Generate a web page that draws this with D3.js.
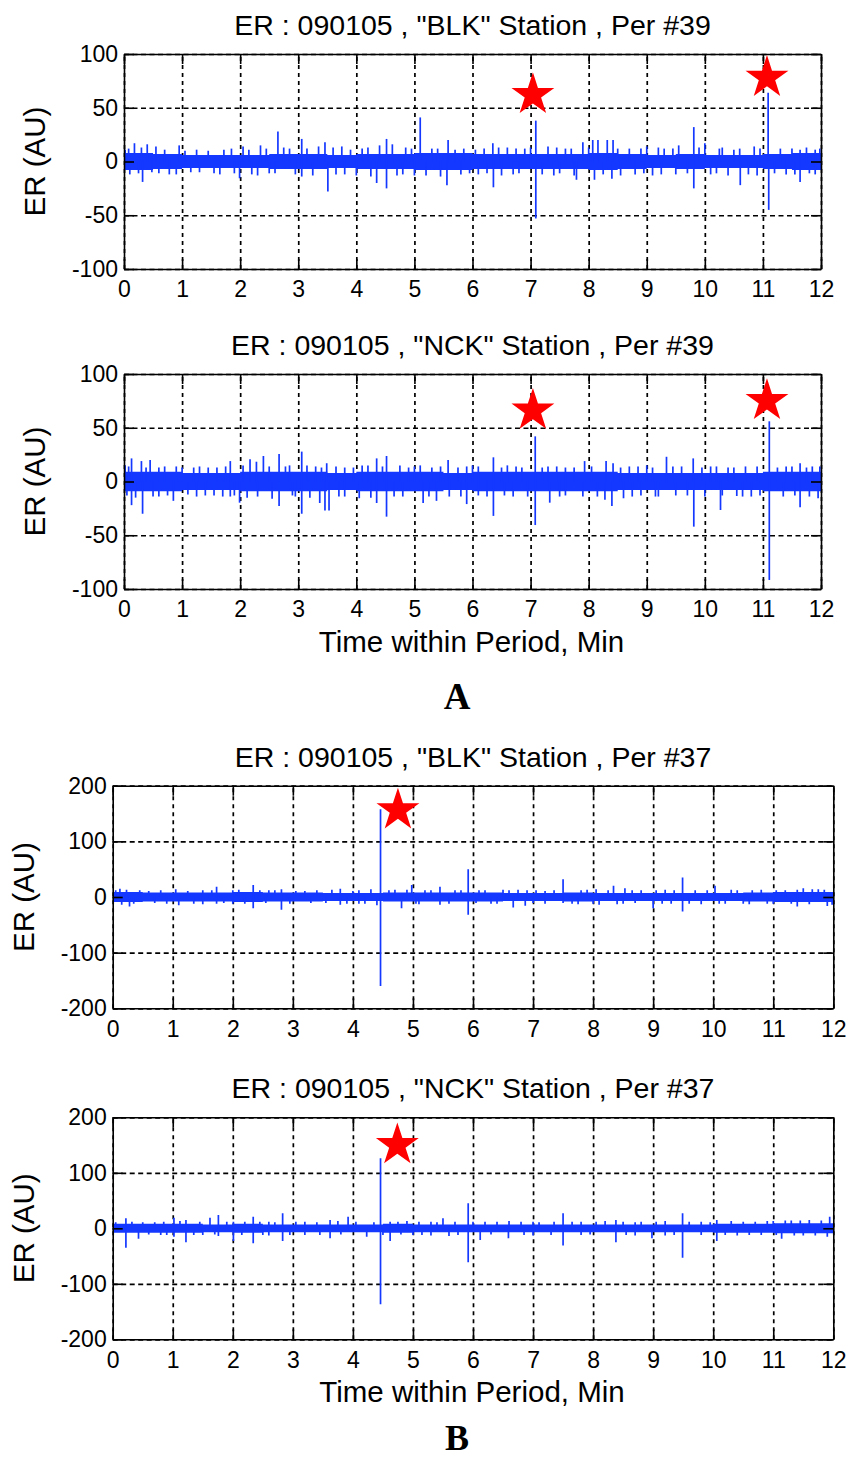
<!DOCTYPE html>
<html lang="en">
<head>
<meta charset="utf-8">
<title>ER periods</title>
<script src="https://cdnjs.cloudflare.com/ajax/libs/d3/7.8.5/d3.min.js"></script>
<style>
  body { margin: 0; background: #fff; }
  text { font-family: "Liberation Sans", Arial, sans-serif; fill: #000; }
</style>
</head>
<body>
<script>
// ---- data ----
var xTickLabels = [0, 1, 2, 3, 4, 5, 6, 7, 8, 9, 10, 11, 12];
var yTicksA = [-100, -50, 0, 50, 100];
var yTicksB = [-200, -100, 0, 100, 200];

var titleA1 = 'ER : 090105 , "BLK" Station , Per #39';
var titleA2 = 'ER : 090105 , "NCK" Station , Per #39';
var titleB1 = 'ER : 090105 , "BLK" Station , Per #37';
var titleB2 = 'ER : 090105 , "NCK" Station , Per #37';

// start of each half-minute bin of the background noise band
var bandTimes = [0, 0.5, 1, 1.5, 2, 2.5, 3, 3.5, 4, 4.5, 5, 5.5, 6, 6.5, 7, 7.5, 8, 8.5, 9, 9.5, 10, 10.5, 11, 11.5, 12];
// half width of the dense noise band per bin (AU)
var bandA1 = [8, 7, 6, 6, 6, 7, 7, 6, 7, 7, 8, 8, 7, 7, 7, 7, 8, 7, 6, 7, 6, 6, 7, 8, 8];
var bandA2 = [9, 9, 8, 8, 9, 9, 9, 8, 9, 9, 9, 8, 9, 9, 9, 9, 9, 8, 8, 8, 8, 8, 9, 9, 9];
var bandB1 = [9, 8, 8, 8, 9, 8, 8, 7, 7, 8, 8, 8, 8, 7, 7, 8, 7, 7, 7, 7, 7, 8, 9, 9, 9];
var bandB2 = [8, 8, 8, 7, 8, 7, 7, 7, 7, 8, 7, 7, 7, 7, 7, 7, 7, 7, 7, 7, 8, 8, 9, 9, 9];

// big spikes: [minute, value]
var spikesA1 = [
  [0.02,11],[0.18,17],[0.40,16],[0.55,14],[0.95,15],[1.45,10],[1.72,11],[2.05,14],[2.35,15],[2.65,28],
  [2.85,12],[3.06,21],[3.46,18],[3.75,14],[4.1,12],[4.52,21],[4.62,16],[4.85,13],[5.10,41],[5.30,12],
  [5.58,20],[5.85,12],[6.05,11],[6.35,17],[6.6,13],[6.9,12],[7.09,38],[7.3,14],[7.6,12],[7.9,18],
  [8.07,20],[8.16,20],[8.32,20],[8.42,20],[8.7,12],[9.0,14],[9.3,12],[9.55,15],[9.81,32],[10.0,17],
  [10.3,13],[10.6,12],[10.85,14],[11.09,64],[11.3,12],[11.64,11],[11.9,11],
  [0.1,-12],[0.32,-19],[0.6,-11],[0.9,-12],[1.3,-10],[1.65,-12],[1.99,-15.6],[2.3,-13],[2.6,-11],[3.06,-14],
  [3.51,-28],[3.8,-12],[4.0,-13],[4.35,-20],[4.52,-25],[4.8,-12],[5.0,-13],[5.56,-22],[5.8,-12],[6.1,-12],
  [6.36,-24],[6.7,-12],[7.09,-53],[7.4,-13],[7.79,-17],[8.1,-17],[8.4,-16],[8.8,-12],[9.1,-13],[9.5,-12],
  [9.81,-25],[10.1,-12],[10.4,-13],[10.61,-22],[10.9,-13],[11.1,-45],[11.4,-12],[11.64,-19],[11.9,-12]
];
var spikesA2 = [
  [0.02,15],[0.13,21.5],[0.30,19],[0.45,20],[0.7,14],[1.0,13],[1.3,14],[1.6,13],[1.83,19],[2.17,20.6],
  [2.28,18.4],[2.40,23.7],[2.67,25.6],[2.85,15],[3.06,27.8],[3.3,14],[3.49,17],[3.8,13],[4.1,15],[4.35,21.5],
  [4.52,23.7],[4.75,15],[5.0,14],[5.3,13],[5.58,20],[5.90,14],[6.1,14],[6.36,22.5],[6.6,15],[6.85,13],
  [7.08,42],[7.3,14],[7.6,13],[7.93,19],[8.3,19],[8.42,17],[8.7,14],[9.0,15],[9.34,23],[9.6,14],
  [9.80,21.5],[10.1,14],[10.4,13],[10.7,14],[11.11,56],[11.4,14],[11.64,17],[11.85,14],
  [0.05,-13],[0.13,-22],[0.32,-30],[0.6,-14],[0.85,-18],[1.1,-12],[1.4,-13],[1.7,-14],[1.83,-14],[1.99,-19.7],
  [2.3,-14],[2.67,-22.8],[2.9,-13],[3.06,-30],[3.37,-20],[3.46,-27],[3.53,-27],[3.8,-14],[4.05,-15.6],[4.35,-20],
  [4.52,-32.7],[4.8,-14],[5.15,-20],[5.38,-18],[5.6,-14],[5.90,-21],[6.1,-13],[6.36,-32],[6.7,-14],[7.08,-40.5],
  [7.33,-19.7],[7.6,-13],[7.9,-14],[8.28,-17],[8.40,-22.8],[8.6,-15.6],[8.9,-13],[9.2,-14],[9.5,-13],[9.81,-42],
  [10.0,-14],[10.27,-26.5],[10.55,-13.5],[10.8,-14],[11.11,-91.6],[11.35,-14],[11.64,-24],[11.95,-15.6]
];
var spikesB1 = [
  [0.12,15],[0.23,13],[0.6,11],[1.05,14],[1.5,12],[1.73,18.6],[2.0,12],[2.34,21.5],[2.6,12],[2.81,14],
  [3.2,11],[3.79,15],[4.1,12],[4.3,14],[4.46,157.5],[4.7,13],[4.98,21.5],[5.2,12],[5.45,18.6],[5.7,12],
  [5.92,50],[6.2,12],[6.5,13],[6.9,12],[7.2,11],[7.50,32],[7.8,12],[8.05,14],[8.34,20],[8.53,15.6],
  [8.8,12],[9.2,13],[9.49,35],[9.7,12],[10.03,20],[10.4,12],[10.8,13],[11.2,12],[11.5,15.6],[11.75,14],
  [0.15,-14],[0.28,-17],[0.7,-11],[1.1,-15],[1.5,-13],[1.73,-12],[2.0,-12],[2.34,-20],[2.81,-23],[3.3,-11],
  [3.79,-14],[4.1,-12],[4.4,-15],[4.46,-160],[4.81,-20],[5.1,-13],[5.45,-14],[5.92,-32],[6.3,-12],[6.67,-19],
  [6.87,-15.6],[7.2,-12],[7.50,-11],[7.75,-13],[8.1,-14],[8.5,-12],[9.0,-20],[9.3,-12],[9.49,-26],[9.8,-13],
  [10.2,-12],[10.6,-13],[11.0,-12],[11.4,-17],[11.9,-16]
];
var spikesB2 = [
  [0.22,18],[0.5,11],[0.85,12],[1.02,19],[1.22,15],[1.62,19],[1.76,24],[2.01,12],[2.34,21],[2.6,12],
  [2.83,27],[3.2,12],[3.62,15],[3.92,21],[4.46,126],[4.62,12],[4.9,13],[5.3,12],[5.5,18],[5.92,45],
  [6.2,12],[6.6,13],[7.0,12],[7.50,27],[7.8,12],[8.2,13],[8.38,15],[8.8,12],[9.2,13],[9.49,27],
  [9.8,12],[10.06,15],[10.5,12],[11.0,13],[11.3,14],[11.6,15],[11.94,21],
  [0.22,-35],[0.43,-19],[0.8,-12],[1.02,-15],[1.22,-25],[1.5,-12],[1.76,-14],[2.01,-23],[2.34,-27],[2.6,-13],
  [2.83,-23],[3.2,-12],[3.62,-18],[4.23,-15],[4.46,-137],[4.62,-23],[5.0,-12],[5.3,-13],[5.6,-14],[5.92,-61],
  [6.12,-21],[6.59,-18],[7.0,-13],[7.50,-31],[7.8,-12],[8.38,-25],[8.7,-13],[8.98,-18],[9.2,-13],[9.49,-53],
  [9.8,-12],[10.06,-23],[10.4,-13],[10.8,-12],[11.14,-19],[11.5,-13],[11.9,-15]
];

// small hairs along the band edges: [minute, value]
var hairsA1 = [
  [0.08,12],[0.25,-11],[0.3,13],[0.48,-10],[0.7,11],[0.78,-12],[1.05,10],[1.15,-10],[1.25,11],[1.55,-11],
  [1.85,12],[1.9,-11],[2.15,11],[2.2,-12],[2.45,12],[2.5,-11],[2.75,13],[2.95,-12],[3.15,12],[3.25,-13],
  [3.35,14],[3.6,13],[3.65,-12],[3.9,11],[4.2,13],[4.25,-14],[4.4,15],[4.7,-13],[4.95,12],[5.2,-13],
  [5.4,12],[5.45,-14],[5.7,11],[5.95,-11],[6.2,12],[6.25,-11],[6.45,13],[6.5,-13],[6.75,12],[6.8,-11],
  [7.0,13],[7.2,-12],[7.45,13],[7.5,-11],[7.7,12],[7.75,-13],[8.0,13],[8.25,-12],[8.5,12],[8.55,-13],
  [8.9,12],[8.95,-11],[9.2,13],[9.25,-12],[9.45,12],[9.7,-11],[9.9,13],[10.2,-11],[10.25,12],[10.5,11],
  [10.75,-12],[10.95,12],[11.2,-11],[11.5,12],[11.55,-12],[11.75,13],[11.8,-11],[11.98,12]
];
var hairsA2 = [
  [0.08,14],[0.2,-15],[0.38,13],[0.5,-14],[0.6,13],[0.75,-13],[0.9,14],[1.2,13],[1.25,-14],[1.45,13],
  [1.55,-13],[1.75,14],[1.9,-13],[2.05,15],[2.12,-15],[2.5,14],[2.55,-16],[2.78,14],[2.95,-14],[3.15,15],
  [3.2,-15],[3.4,13],[3.65,14],[3.7,-14],[3.95,13],[4.2,15],[4.25,-15],[4.45,14],[4.65,-14],[4.9,13],
  [5.1,15],[5.25,-14],[5.45,14],[5.75,13],[5.8,-14],[6.0,15],[6.25,-14],[6.5,13],[6.55,-13],[6.75,14],
  [6.95,-14],[7.2,13],[7.45,14],[7.5,-14],[7.75,13],[8.05,14],[8.15,-14],[8.55,13],[8.75,-14],[8.85,14],
  [9.1,13],[9.15,-14],[9.45,14],[9.7,-13],[9.95,13],[10.2,14],[10.3,-13],[10.5,13],[10.65,-14],[10.9,14],
  [10.95,-13],[11.25,13],[11.5,14],[11.55,-13],[11.75,13],[11.8,-14],[11.98,14]
];
var hairsB1 = [
  [0.05,12],[0.35,-12],[0.45,12],[0.8,12],[0.9,-12],[1.25,11],[1.35,-12],[1.65,12],[1.85,-11],[2.1,13],
  [2.2,-12],[2.45,12],[2.55,-11],[2.7,12],[2.95,-12],[3.05,11],[3.4,12],[3.55,-11],[3.65,13],[3.9,-12],
  [4.0,11],[4.2,-12],[4.6,12],[4.9,13],[5.05,-12],[5.3,12],[5.6,-12],[5.8,12],[6.05,-11],[6.1,12],
  [6.4,-12],[6.6,12],[6.75,13],[7.0,-11],[7.05,12],[7.35,12],[7.65,-12],[7.9,13],[8.0,-12],[8.25,12],
  [8.4,-13],[8.65,12],[8.7,-11],[9.05,12],[9.15,-12],[9.35,12],[9.6,-12],[9.9,12],[10.1,-12],[10.3,13],
  [10.5,-12],[10.65,12],[10.9,-12],[11.05,12],[11.3,-12],[11.4,13],[11.6,-13],[11.65,14],[11.85,13],[11.98,-14]
];
var hairsB2 = [
  [0.05,11],[0.32,12],[0.6,-11],[0.7,11],[0.9,-12],[1.12,13],[1.35,-12],[1.45,12],[1.7,-11],[1.9,12],
  [2.15,-12],[2.2,12],[2.45,12],[2.5,-12],[2.7,11],[2.95,-12],[3.05,12],[3.4,11],[3.45,-12],[3.75,13],
  [3.8,-11],[4.05,12],[4.35,11],[4.5,-12],[4.75,12],[4.8,-11],[5.1,12],[5.15,-12],[5.4,11],[5.7,12],
  [5.75,-12],[6.0,12],[6.3,-11],[6.4,12],[6.8,12],[6.85,-12],[7.1,11],[7.3,-12],[7.35,12],[7.65,12],
  [7.95,-11],[8.05,12],[8.5,12],[8.55,-12],[8.7,11],[9.05,12],[9.35,-12],[9.6,12],[9.95,11],[10.2,-12],
  [10.3,13],[10.6,-12],[10.7,12],[10.9,13],[11.05,-12],[11.2,14],[11.35,-13],[11.45,14],[11.7,-13],[11.8,14]
];

// red star markers: [minute, value]
var starsA1 = [[7.04, 62], [11.07, 78]];
var starsA2 = [[7.04, 66], [11.07, 75]];
var starsB1 = [[4.75, 156]];
var starsB2 = [[4.74, 150]];

// ---- layout ----
var W = 849, H = 1458;
var svg = d3.select("body").append("svg")
  .attr("width", W)
  .attr("height", H);

var panels = [
  { title: titleA1, yTicks: yTicksA, band: bandA1, spikes: spikesA1.concat(hairsA1), stars: starsA1,
    l: 124, r: 821, t: 54, b: 269, ylabX: 45, xlab: false },
  { title: titleA2, yTicks: yTicksA, band: bandA2, spikes: spikesA2.concat(hairsA2), stars: starsA2,
    l: 124, r: 821, t: 374, b: 589, ylabX: 45, xlab: true },
  { title: titleB1, yTicks: yTicksB, band: bandB1, spikes: spikesB1.concat(hairsB1), stars: starsB1,
    l: 112.7, r: 833.3, t: 785.7, b: 1008.3, ylabX: 34, xlab: false },
  { title: titleB2, yTicks: yTicksB, band: bandB2, spikes: spikesB2.concat(hairsB2), stars: starsB2,
    l: 112.7, r: 833.3, t: 1117.3, b: 1339.3, ylabX: 34, xlab: true }
];

var blue = "#1438ff";

panels.forEach(function(p, k) {
  var yMax = d3.max(p.yTicks), yMin = d3.min(p.yTicks);
  var x = d3.scaleLinear().domain([0, 12]).range([p.l, p.r]);
  var y = d3.scaleLinear().domain([yMin, yMax]).range([p.b, p.t]);
  var g = svg.append("g");

  // grid (dotted)
  g.append("g")
    .attr("transform", "translate(0," + p.b + ")")
    .call(d3.axisBottom(x).tickValues(xTickLabels).tickSize(-(p.b - p.t)).tickFormat(""))
    .call(function(s) {
      s.select(".domain").remove();
      s.selectAll("line").attr("stroke", "#000").attr("stroke-width", 1.7).attr("stroke-dasharray", "4,4");
    });
  g.append("g")
    .attr("transform", "translate(" + p.l + ",0)")
    .call(d3.axisLeft(y).tickValues(p.yTicks).tickSize(-(p.r - p.l)).tickFormat(""))
    .call(function(s) {
      s.select(".domain").remove();
      s.selectAll("line").attr("stroke", "#000").attr("stroke-width", 1.7).attr("stroke-dasharray", "5,3.5");
    });

  // signal
  var clipId = "clip" + k;
  svg.append("clipPath").attr("id", clipId)
    .append("rect").attr("x", p.l).attr("y", p.t).attr("width", p.r - p.l).attr("height", p.b - p.t);

  var sig = g.append("g").attr("clip-path", "url(#" + clipId + ")");
  var area = d3.area()
    .x(function(d, i) { return x(bandTimes[i]); })
    .y0(function(d) { return y(-d); })
    .y1(function(d) { return y(d); })
    .curve(d3.curveStepAfter);
  sig.append("path")
    .attr("d", area(p.band))
    .attr("fill", blue);

  sig.selectAll("line.spike")
    .data(p.spikes)
    .enter()
    .append("line")
    .attr("class", "spike")
    .attr("x1", function(d) { return x(d[0]); })
    .attr("x2", function(d) { return x(d[0]); })
    .attr("y1", y(0))
    .attr("y2", function(d) { return y(d[1]); })
    .attr("stroke", blue)
    .attr("stroke-width", 1.7);

  // box + inside ticks
  var tk = 10;
  g.append("g").attr("transform", "translate(0," + p.b + ")")
    .call(d3.axisBottom(x).tickValues(xTickLabels).tickSize(-tk).tickSizeOuter(0).tickPadding(12)
      .tickFormat(function(d) { return d; }));
  g.append("g").attr("transform", "translate(0," + p.t + ")")
    .call(d3.axisTop(x).tickValues(xTickLabels).tickSize(-tk).tickSizeOuter(0).tickFormat(""));
  g.append("g").attr("transform", "translate(" + p.l + ",0)")
    .call(d3.axisLeft(y).tickValues(p.yTicks).tickSize(-tk).tickSizeOuter(0).tickPadding(6)
      .tickFormat(function(d) { return d; }));
  g.append("g").attr("transform", "translate(" + p.r + ",0)")
    .call(d3.axisRight(y).tickValues(p.yTicks).tickSize(-tk).tickSizeOuter(0).tickFormat(""));
  g.selectAll(".domain").attr("stroke", "#000").attr("stroke-width", 1.6);
  g.selectAll(".tick line").filter(function() { return !this.getAttribute("stroke-dasharray"); })
    .attr("stroke", "#000").attr("stroke-width", 1.6);
  g.selectAll(".tick text")
    .attr("font-family", "Liberation Sans, Arial, sans-serif")
    .attr("font-size", "23px")
    .attr("fill", "#000");

  // stars
  g.selectAll("path.star")
    .data(p.stars)
    .enter()
    .append("path")
    .attr("class", "star")
    .attr("d", d3.symbol().type(d3.symbolStar).size(570))
    .attr("transform", function(d) { return "translate(" + x(d[0]) + "," + y(d[1]) + ")"; })
    .attr("fill", "#ff0000");

  // texts
  g.append("text")
    .attr("x", (p.l + p.r) / 2)
    .attr("y", p.t - 19)
    .attr("text-anchor", "middle")
    .attr("font-size", "28.5px")
    .text(p.title);

  g.append("text")
    .attr("transform", "translate(" + p.ylabX + "," + (p.t + p.b) / 2 + ") rotate(-90)")
    .attr("text-anchor", "middle")
    .attr("font-size", "29.5px")
    .text("ER (AU)");

  if (p.xlab) {
    g.append("text")
      .attr("x", (p.l + p.r) / 2 - 1)
      .attr("y", p.b + 63)
      .attr("text-anchor", "middle")
      .attr("font-size", "29.5px")
      .text("Time within Period, Min");
  }
});

svg.append("text")
  .attr("x", 457).attr("y", 709)
  .attr("text-anchor", "middle")
  .style("font-family", "'Liberation Serif', 'Times New Roman', serif")
  .attr("font-weight", "bold")
  .attr("font-size", "37px")
  .text("A");

svg.append("text")
  .attr("x", 457).attr("y", 1450)
  .attr("text-anchor", "middle")
  .style("font-family", "'Liberation Serif', 'Times New Roman', serif")
  .attr("font-weight", "bold")
  .attr("font-size", "36px")
  .text("B");
</script>
</body>
</html>
